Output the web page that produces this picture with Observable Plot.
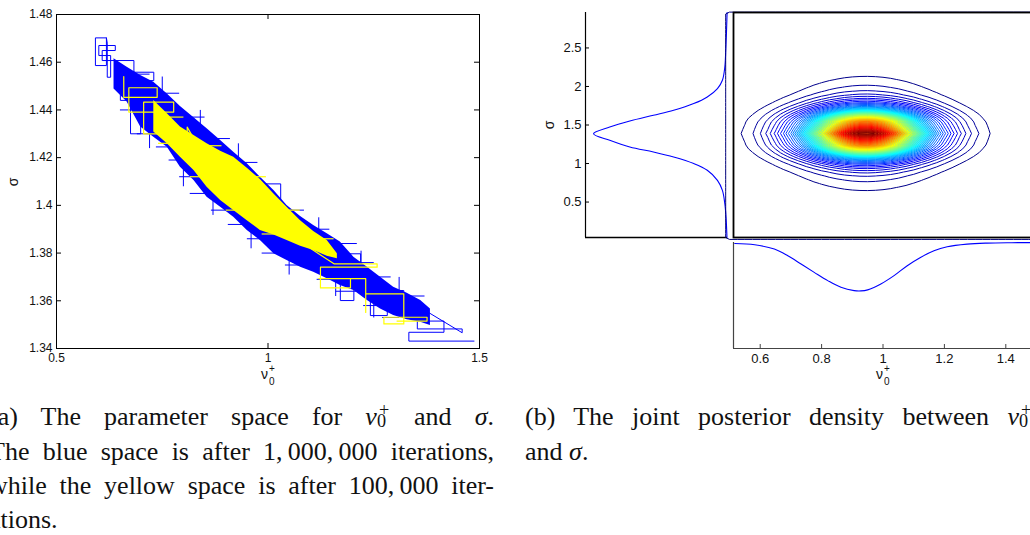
<!DOCTYPE html>
<html><head><meta charset="utf-8">
<script src="https://cdn.jsdelivr.net/npm/d3@7"></script>
<script src="https://cdn.jsdelivr.net/npm/@observablehq/plot@0.6"></script>
<style>
html,body{margin:0;padding:0;background:#fff;}
#page{position:relative;width:1030px;height:535px;overflow:hidden;background:#fff;}
.panel{position:absolute;}
.panel svg{max-width:none;display:block;}
.cap{position:absolute;font-family:"Liberation Serif","DejaVu Serif","Noto Serif","Times New Roman",Times,serif;font-size:26px;line-height:34px;color:#111;}
.cap.j{text-align:justify;text-align-last:justify;}
.ss{display:inline-block;position:relative;width:14px;height:0.8em;}
.ss span{position:absolute;font-size:0.7em;line-height:1;font-style:normal;}
.ss .sup{left:2px;top:-0.2em;}
.ss .sub{left:0;top:0.42em;}
.gl{position:absolute;font-family:"Liberation Sans",Arial,sans-serif;color:#111;white-space:nowrap;}
.rot{transform:rotate(-90deg);text-align:center;width:20px;height:16px;line-height:16px;font-size:14px;}
</style></head>
<body><div id="page">
<div class="panel" id="pA" style="left:0;top:0"></div>
<div class="panel" id="pM" style="left:520px;top:0"></div>
<div class="panel" id="pC" style="left:700px;top:0"></div>
<div class="panel" id="pB" style="left:700px;top:238px"></div>

<div class="gl rot" style="left:3px;top:174px">σ</div>
<div class="gl rot" style="left:539px;top:117px">σ</div>
<div class="gl" style="left:261px;top:367px;font-size:14px;line-height:14px">ν</div>
<div class="gl" style="left:269px;top:364px;font-size:10px;line-height:10px">+</div>
<div class="gl" style="left:269px;top:377px;font-size:10px;line-height:10px">0</div>
<div class="gl" style="left:876px;top:367px;font-size:14px;line-height:14px">ν</div>
<div class="gl" style="left:884px;top:364px;font-size:10px;line-height:10px">+</div>
<div class="gl" style="left:884px;top:377px;font-size:10px;line-height:10px">0</div>

<div class="cap j" style="left:-11px;top:400px;width:505px">(a) The parameter space for <i>ν</i><span class="ss"><span class="sup">+</span><span class="sub">0</span></span> and <i>σ</i>.</div>
<div class="cap j" style="left:-11px;top:435px;width:505px">The blue space is after 1,&#8201;000,&#8201;000 iterations,</div>
<div class="cap j" style="left:-11px;top:469px;width:505px">while the yellow space is after 100,&#8201;000 iter-</div>
<div class="cap" style="left:-11px;top:503px;width:505px">ations.</div>
<div class="cap j" style="left:525px;top:400px;width:508px">(b) The joint posterior density between <i>ν</i><span class="ss"><span class="sup">+</span><span class="sub">0</span></span></div>
<div class="cap" style="left:525px;top:435px;width:508px">and <i>σ</i>.</div>
</div>
<script>
// ---------- Panel (a): MCMC parameter space ----------
const nuDomainA = [0.5, 1.5];
const sigmaDomainA = [1.34, 1.48];
const nuTicksA = [0.5, 1, 1.5];
const nuTickLabelsA = ["0.5", "1", "1.5"];
const sigmaTicksA = [1.34, 1.36, 1.38, 1.40, 1.42, 1.44, 1.46, 1.48];
const sigmaTickLabelsA = ["1.34", "1.36", "1.38", "1.4", "1.42", "1.44", "1.46", "1.48"];

// dense blue region (1,000,000 iterations): envelope
const blueBandX  = [0.636,0.667,0.699,0.730,0.762,0.793,0.825,0.856,0.888,0.919,0.951,0.982,1.014,1.045,1.077,1.108,1.140,1.171,1.203,1.235,1.266,1.297,1.329,1.361,1.384];
const blueBandHi = [1.4614,1.4579,1.4544,1.4516,1.4467,1.4414,1.4367,1.4321,1.4272,1.4223,1.4174,1.4118,1.4062,1.3999,1.3953,1.3916,1.3881,1.3846,1.3783,1.3741,1.3699,1.3657,1.3632,1.3601,1.3566];
const blueBandLo = [1.4488,1.4433,1.4328,1.4286,1.4244,1.4160,1.4104,1.4034,1.3992,1.3950,1.3895,1.3853,1.3797,1.3769,1.3741,1.3720,1.3692,1.3664,1.3643,1.3601,1.3566,1.3538,1.3520,1.3510,1.3496];
// blue chain: lower-right tail and upper-left head
const blueTailX = [1.487,1.333,1.333,1.416,1.416,1.372,1.372,1.459,1.459,1.353,1.353,1.317,1.317,1.282,1.282,1.242,1.242,1.321,1.321,1.258,1.258,1.203,1.203,1.171,1.171,1.219,1.219,1.148];
const blueTailY = [1.3431,1.3431,1.3468,1.3468,1.3515,1.3515,1.3559,1.3466,1.3482,1.3482,1.3594,1.3594,1.3643,1.3643,1.3538,1.3538,1.3622,1.3622,1.3643,1.3643,1.3706,1.3706,1.3601,1.3601,1.3762,1.3762,1.3797,1.3797];
const blueHeadX = [0.738,0.699,0.699,0.675,0.675,0.651,0.651,0.730,0.730,0.683,0.683,0.608,0.608,0.639,0.639,0.600,0.600,0.628,0.628,0.620,0.620,0.618,0.592,0.592,0.618,0.618];
const blueHeadY = [1.4481,1.4481,1.4300,1.4300,1.4440,1.4440,1.4558,1.4558,1.4523,1.4523,1.4607,1.4607,1.4649,1.4649,1.4670,1.4670,1.4628,1.4628,1.4537,1.4537,1.4680,1.4702,1.4702,1.4586,1.4586,1.4702];
// blue chain moves poking out of the dense region (segments)
const blueMoveX1 = [0.690,0.725,0.775,0.800,0.830,0.865,0.905,0.945,0.990,1.020,1.100,1.150,1.210,1.260,1.310, 0.675,0.745,0.810,0.870,0.935,0.985,1.040,1.100,1.160,1.205,1.250,1.320, 0.72,0.80,0.87,0.96,1.05,1.16,1.25, 0.75,0.84,0.93,1.03,1.12,1.22,1.31];
const blueMoveX2 = [0.650,0.690,0.735,0.765,0.790,0.815,0.865,0.905,0.950,0.985,1.040,1.115,1.160,1.225,1.270, 0.720,0.790,0.850,0.910,0.975,1.030,1.085,1.145,1.210,1.250,1.290,1.370, 0.72,0.80,0.87,0.96,1.05,1.16,1.25, 0.75,0.84,0.93,1.03,1.12,1.22,1.31];
const blueMoveY1 = [1.440,1.430,1.4245,1.419,1.412,1.405,1.398,1.392,1.386,1.380,1.375,1.369,1.364,1.358,1.353, 1.455,1.447,1.437,1.428,1.418,1.409,1.398,1.390,1.384,1.376,1.370,1.362, 1.434,1.419,1.405,1.392,1.380,1.371,1.362, 1.444,1.430,1.417,1.399,1.386,1.372,1.361];
const blueMoveY2 = [1.440,1.430,1.4245,1.419,1.412,1.405,1.398,1.392,1.386,1.380,1.375,1.369,1.364,1.358,1.353, 1.455,1.447,1.437,1.428,1.418,1.409,1.398,1.390,1.384,1.376,1.370,1.362, 1.424,1.408,1.396,1.382,1.371,1.362,1.353, 1.454,1.440,1.426,1.409,1.395,1.381,1.370];

// dense yellow region (100,000 iterations): envelope
const yellowBandX  = [0.730,0.762,0.793,0.825,0.856,0.888,0.919,0.951,0.982,1.014,1.045,1.077,1.108,1.140,1.164];
const yellowBandHi = [1.4440,1.4384,1.4328,1.4293,1.4258,1.4227,1.4202,1.4156,1.4108,1.4048,1.3992,1.3936,1.3890,1.3853,1.3797];
const yellowBandLo = [1.4307,1.4258,1.4202,1.4146,1.4076,1.4020,1.3978,1.3936,1.3895,1.3876,1.3853,1.3829,1.3811,1.3787,1.3776];
// yellow chain: upper-left head and lower-right tail
const yellowHeadX = [0.659,0.659,0.738,0.738,0.671,0.671,0.777,0.777,0.706,0.706,0.809,0.809,0.850];
const yellowHeadY = [1.4540,1.4453,1.4453,1.4493,1.4493,1.4391,1.4391,1.4433,1.4433,1.4300,1.4300,1.4328,1.4200];
const yellowTailX = [1.100,1.156,1.258,1.258,1.124,1.124,1.195,1.195,1.120,1.231,1.231,1.231,1.321,1.321,1.274,1.274,1.376,1.376,1.305];
const yellowTailY = [1.3820,1.3755,1.3755,1.3741,1.3741,1.3654,1.3654,1.3693,1.3693,1.3693,1.3551,1.3629,1.3629,1.3503,1.3503,1.3531,1.3531,1.3515,1.3515];
// yellow moves poking out
const yellowMoveX1 = [0.755,0.845,0.960,1.035,1.115, 0.775,0.850,0.935,1.020];
const yellowMoveX2 = [0.800,0.890,0.995,1.075,1.155, 0.740,0.815,0.900,0.985];
const yellowMoveY  = [1.437,1.425,1.412,1.398,1.386, 1.426,1.412,1.398,1.388];

// ---------- Panel (b): joint posterior ----------
const nuDomainB = [0.513, 1.5];
const sigmaDomainB = [0.04, 2.96];
const nuTicksB = [0.6, 0.8, 1, 1.2, 1.4];
const nuTickLabelsB = ["0.6", "0.8", "1", "1.2", "1.4"];
const sigmaTicksB = [0.5, 1, 1.5, 2, 2.5];
const sigmaTickLabelsB = ["0.5", "1", "1.5", "2", "2.5"];

// density grid: nu from 0.5 to 1.5 (step 0.025), sigma from 0.04 to 2.94 (step 0.05)
const gridNuRange = [0.5, 1.5];
const gridSigmaRange = [0.04, 2.94];
const jointNuProfile = [0.0090,0.0151,0.0246,0.0387,0.0593,0.0880,0.127,0.178,0.241,0.318,0.407,0.506,0.609,0.713,0.810,0.893,0.955,0.991,0.999,0.977,0.928,0.855,0.765,0.664,0.559,0.457,0.363,0.280,0.209,0.152,0.107,0.0731,0.0485,0.0312,0.0195,0.0118,0.0070,0.0040,0.0022,0.0012,0.0006];
const jointSigmaProfile = [0.00011,0.0002,0.00033,0.00055,0.0009,0.0014,0.0022,0.0034,0.0050,0.0072,0.0100,0.0138,0.0188,0.0255,0.0345,0.0460,0.0620,0.0860,0.125,0.180,0.262,0.372,0.502,0.638,0.756,0.835,0.914,1,0.914,0.835,0.756,0.638,0.502,0.372,0.262,0.180,0.125,0.0860,0.0620,0.0460,0.0345,0.0255,0.0188,0.0138,0.0100,0.0072,0.0050,0.0034,0.0022,0.0014,0.0009,0.00055,0.00033,0.0002,0.00011,0.00006,0.000033,0.000018,0.00001];

// marginal of sigma
const margSigma     = [0.04,0.09,0.305,0.479,0.652,0.782,0.912,0.999,1.084,1.149,1.214,1.301,1.388,1.474,1.552,1.626,1.691,1.778,1.864,1.972,2.081,2.253,2.47,2.687,2.96];
const margSigmaDens = [0.004,0.005,0.011,0.020,0.038,0.075,0.151,0.252,0.402,0.553,0.729,0.879,1.0,0.879,0.729,0.553,0.402,0.252,0.151,0.075,0.038,0.020,0.013,0.008,0.003];
// marginal of nu
const margNu     = [0.517,0.582,0.646,0.690,0.733,0.776,0.820,0.863,0.906,0.928,0.950,0.993,1.036,1.079,1.122,1.166,1.209,1.274,1.339,1.42,1.5];
const margNuDens = [0.021,0.047,0.136,0.274,0.444,0.617,0.788,0.926,0.994,1.0,0.979,0.856,0.685,0.479,0.309,0.171,0.088,0.033,0.012,0.004,0.001];

const jetStops = [0, 0.125, 0.375, 0.625, 0.875, 1];
const jetColors = ["#000090", "#0000ff", "#00ffff", "#ffff00", "#ff0000", "#800000"];

const sans = "'Liberation Sans', Arial, Helvetica, sans-serif";
const idx = n => d3.range(n);

// ---- Panel (a) ----
const frameAW = 500 - 56 - 21, frameAH = 380 - 14 - 32;
const plotA = Plot.plot({
  width: 500, height: 380,
  marginLeft: 56, marginRight: 21, marginTop: 14, marginBottom: 32,
  style: {fontFamily: sans, fontSize: "12px", color: "#111", background: "transparent", overflow: "visible"},
  x: {domain: nuDomainA},
  y: {domain: sigmaDomainA},
  marks: [
    Plot.areaY(idx(blueBandX.length), {x: i => blueBandX[i], y1: i => blueBandLo[i], y2: i => blueBandHi[i], fill: "#0000ff"}),
    Plot.line(idx(blueTailX.length), {x: i => blueTailX[i], y: i => blueTailY[i], stroke: "#0000ff", strokeWidth: 1}),
    Plot.line(idx(blueHeadX.length), {x: i => blueHeadX[i], y: i => blueHeadY[i], stroke: "#0000ff", strokeWidth: 1}),
    Plot.link(idx(blueMoveX1.length), {x1: i => blueMoveX1[i], x2: i => blueMoveX2[i], y1: i => blueMoveY1[i], y2: i => blueMoveY2[i], stroke: "#0000ff", strokeWidth: 1}),
    Plot.areaY(idx(yellowBandX.length), {x: i => yellowBandX[i], y1: i => yellowBandLo[i], y2: i => yellowBandHi[i], fill: "#ffff00"}),
    Plot.line(idx(yellowHeadX.length), {x: i => yellowHeadX[i], y: i => yellowHeadY[i], stroke: "#ffff00", strokeWidth: 1.2}),
    Plot.line(idx(yellowTailX.length), {x: i => yellowTailX[i], y: i => yellowTailY[i], stroke: "#ffff00", strokeWidth: 1.2}),
    Plot.link(idx(yellowMoveX1.length), {x1: i => yellowMoveX1[i], x2: i => yellowMoveX2[i], y1: i => yellowMoveY[i], y2: i => yellowMoveY[i], stroke: "#ffff00", strokeWidth: 1.2}),
    Plot.frame({stroke: "#000", strokeWidth: 1}),
    Plot.tickX(nuTicksA, {x: d => d, insetTop: frameAH - 5, stroke: "#000"}),
    Plot.tickX(nuTicksA, {x: d => d, insetBottom: frameAH - 5, stroke: "#000"}),
    Plot.tickY(sigmaTicksA, {y: d => d, insetRight: frameAW - 5, stroke: "#000"}),
    Plot.tickY(sigmaTicksA, {y: d => d, insetLeft: frameAW - 5, stroke: "#000"}),
    Plot.axisX({ticks: nuTicksA, tickFormat: d => nuTickLabelsA[nuTicksA.indexOf(d)], tickSize: 0, tickPadding: 5, label: null}),
    Plot.axisY({ticks: sigmaTicksA, tickFormat: d => sigmaTickLabelsA[sigmaTicksA.indexOf(d)], tickSize: 0, tickPadding: 4, label: null})
  ]
});
document.getElementById("pA").appendChild(plotA);

// ---- Panel (b) left marginal ----
const frameMW = 215 - 65 - 8;
const plotM = Plot.plot({
  width: 215, height: 240,
  marginLeft: 65, marginRight: 8, marginTop: 12, marginBottom: 3,
  style: {fontFamily: sans, fontSize: "13px", color: "#111", background: "transparent", overflow: "visible"},
  x: {domain: [0, 1.06], reverse: true, axis: null},
  y: {domain: sigmaDomainB},
  marks: [
    Plot.line(idx(margSigma.length), {x: i => margSigmaDens[i], y: i => margSigma[i], stroke: "#0000ff", strokeWidth: 1.1, curve: "catmull-rom"}),
    Plot.ruleX([1.06], {stroke: "#000", strokeWidth: 1.2}),
    Plot.ruleY([sigmaDomainB[0]], {stroke: "#000", strokeWidth: 1.6}),
    Plot.tickY(sigmaTicksB, {y: d => d, insetRight: frameMW - 4, stroke: "#000"}),
    Plot.axisY({ticks: sigmaTicksB, tickFormat: d => sigmaTickLabelsB[sigmaTicksB.indexOf(d)], tickSize: 0, tickPadding: 4, label: null})
  ]
});
document.getElementById("pM").appendChild(plotM);

// ---- Panel (b) contour ----
const nW = jointNuProfile.length, nH = jointSigmaProfile.length;
const stepNu = (gridNuRange[1] - gridNuRange[0]) / (nW - 1);
const stepSig = (gridSigmaRange[1] - gridSigmaRange[0]) / (nH - 1);
const grid = [];
for (let j = 0; j < nH; j++) for (let i = 0; i < nW; i++) grid.push(jointNuProfile[i] * jointSigmaProfile[j]);
const lo = 0.025, hi = 0.975;
const gridOpts = {
  width: nW, height: nH,
  x1: gridNuRange[0] - stepNu / 2, x2: gridNuRange[1] + stepNu / 2,
  y1: gridSigmaRange[0] - stepSig / 2, y2: gridSigmaRange[1] + stepSig / 2
};
const plotC = Plot.plot({
  width: 340, height: 240,
  marginLeft: 33, marginRight: 4, marginTop: 12, marginBottom: 3,
  style: {background: "transparent", overflow: "visible"},
  x: {domain: nuDomainB, axis: null},
  y: {domain: sigmaDomainB, axis: null},
  color: {type: "linear", domain: jetStops.map(t => lo + t * (hi - lo)), range: jetColors, interpolate: "rgb"},
  marks: [
    // the dense inner contour lines blend into a shaded look
    Plot.contour(grid, {...gridOpts, thresholds: d3.range(0.25, 0.99, 0.025), fill: Plot.identity, fillOpacity: 0.15, stroke: "none"}),
    Plot.contour(grid, {...gridOpts, thresholds: 40, fill: "none", stroke: Plot.identity, strokeWidth: 1}),
    Plot.frame({stroke: "#000", strokeWidth: 1.8})
  ]
});
document.getElementById("pC").appendChild(plotC);

// ---- Panel (b) bottom marginal ----
const frameBH = 140 - 4 - 30;
const plotB = Plot.plot({
  width: 340, height: 140,
  marginLeft: 33, marginRight: 4, marginTop: 4, marginBottom: 30,
  style: {fontFamily: sans, fontSize: "13px", color: "#111", background: "transparent", overflow: "visible"},
  x: {domain: nuDomainB},
  y: {domain: [0, 2.19], reverse: true, axis: null},
  marks: [
    Plot.line(idx(margNu.length), {x: i => margNu[i], y: i => margNuDens[i], stroke: "#0000ff", strokeWidth: 1.1, curve: "catmull-rom"}),
    Plot.ruleX([nuDomainB[0]], {stroke: "#444", strokeWidth: 1.2}),
    Plot.ruleY([2.19], {stroke: "#444", strokeWidth: 1.2}),
    Plot.tickX(nuTicksB, {x: d => d, insetTop: frameBH - 4, stroke: "#444"}),
    Plot.axisX({ticks: nuTicksB, tickFormat: d => nuTickLabelsB[nuTicksB.indexOf(d)], tickSize: 0, tickPadding: 5, label: null})
  ]
});
document.getElementById("pB").appendChild(plotB);

// keep every caption line on a single line (shrink uniformly if the font is wide)
const caps = Array.from(document.querySelectorAll(".cap"));
let fs = 26;
const fits = () => caps.every(el => el.getBoundingClientRect().height < 40);
while (!fits() && fs > 16) { fs -= 0.5; caps.forEach(el => el.style.fontSize = fs + "px"); }
</script>
</body></html>
